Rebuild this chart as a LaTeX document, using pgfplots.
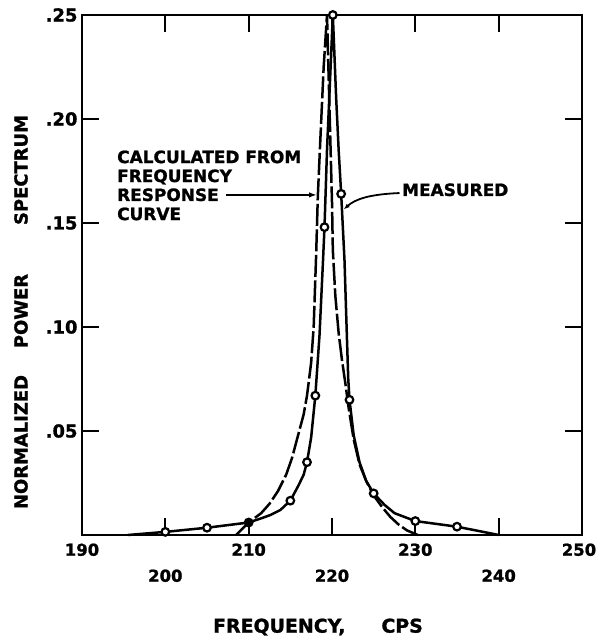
\documentclass[border=0pt]{standalone}
\usepackage{fontspec}
\setmainfont{DejaVu Sans}
\newfontfamily\heavy{DejaVu Sans Bold}[FakeBold=1.2]
\usepackage{pgfplots}
\pgfplotsset{compat=1.18}
\usetikzlibrary{arrows.meta}
\newcommand\tickfont{\fontsize{18}{18}\selectfont\heavy}
\newcommand\xtickfont{\fontsize{16.5}{16.5}\selectfont\heavy}
\newcommand\annfont{\fontsize{17}{17}\selectfont\heavy}
\newcommand\labfont{\fontsize{18}{18}\selectfont\heavy}
\begin{document}
\begin{tikzpicture}
\path[use as bounding box] (0,0) rectangle (598bp,641bp);
\begin{axis}[
  at={(82bp,106bp)}, anchor=south west,
  scale only axis, width=500bp, height=520bp,
  xmin=190, xmax=250, ymin=0, ymax=0.25,
  clip=false,
  axis line style={line width=2.4bp},
  tick style={line width=2.2bp, black},
  tick align=inside,
  major tick length=17bp,
  xtick={190,210,230,250},
  xticklabels={190,210,230,{250\kern6bp}},
  extra x ticks={200,220,240},
  extra x tick labels={200,220,240},
  extra x tick style={xticklabel style={yshift=-26bp}},
  ytick={0.05,0.10,0.15,0.20,0.25},
  yticklabels={.05,.10,.15,.20,.25},
  yticklabel style={font=\tickfont, xshift=-1bp},
  xticklabel style={font=\xtickfont, yshift=-5bp},
]
% calculated from frequency response curve (dashed)
\addplot[line width=2.5bp, black, dash pattern=on 22bp off 3.5bp] coordinates {
(208.5,0) (210,0.006) (211.5,0.0105) (212.5,0.015) (213.5,0.021) (214.5,0.029)
(215.2,0.037) (216,0.049) (216.6,0.058) (217,0.067) (217.5,0.083) (217.8,0.100)
(218.1,0.135) (218.3,0.163) (218.6,0.190) (219.0,0.225) (219.4,0.250)
(219.6,0.220) (219.8,0.190) (220.0,0.160) (220.1,0.137) (220.4,0.115)
(220.8,0.097) (221.2,0.084) (221.6,0.073) (222.0,0.061) (222.6,0.046)
(223.3,0.034) (224.1,0.026) (225,0.019) (226,0.0135) (227,0.0087)
(228,0.005) (229,0.0022) (230.3,0)
};
% measured (solid)
\addplot[line width=2.5bp, black] coordinates {
(195.5,0) (200,0.0015) (205,0.0035) (210,0.006) (211.5,0.008) (212.6,0.0096)
(213.8,0.012) (215,0.0165) (216,0.024) (216.6,0.029) (217,0.035) (217.5,0.047)
(218,0.067) (218.5,0.096) (218.9,0.130) (219.1,0.148) (219.4,0.185)
(219.8,0.222) (220.1,0.250) (220.5,0.210) (220.8,0.185) (221.1,0.164)
(221.5,0.132) (221.75,0.100) (221.95,0.075) (222.1,0.065) (222.6,0.048)
(223.3,0.035) (224.1,0.026) (225,0.020) (226.3,0.0145) (227.5,0.0105)
(230,0.0067) (235,0.004) (240,0)
};
% measured points
\addplot[only marks, mark=*, mark size=3.8bp, mark options={fill=white, draw=black, line width=2.2bp}] coordinates {
(200,0.0015) (205,0.0035) (215,0.0165) (217,0.035) (218,0.067) (219.1,0.148)
(220.1,0.250) (221.1,0.164) (222.1,0.065) (225,0.020) (230,0.0067) (235,0.004)
};
\addplot[only marks, mark=*, mark size=3.8bp, mark options={fill=black, draw=black, line width=2.2bp}] coordinates {
(210,0.006)
};
% annotations
\node[anchor=base west, font=\annfont, inner sep=0] at (axis cs:194.2,0.1788) {CALCULATED FROM};
\node[anchor=base west, font=\annfont, inner sep=0] at (axis cs:194.2,0.1697) {FREQUENCY};
\node[anchor=base west, font=\annfont, inner sep=0] at (axis cs:194.2,0.1606) {RESPONSE};
\node[anchor=base west, font=\annfont, inner sep=0] at (axis cs:194.2,0.1514) {CURVE};
\draw[line width=1.8bp, -{Latex[length=8bp,width=5.5bp]}] (axis cs:207.3,0.1635) -- (axis cs:218.2,0.1635);
\node[anchor=base west, font=\annfont, inner sep=0] at (axis cs:228.4,0.1630) {MEASURED};
\draw[line width=1.8bp, -{Latex[length=6bp,width=4.5bp]}] (axis cs:228.1,0.1644) .. controls (axis cs:224.5,0.1638) and (axis cs:222.8,0.1615) .. (axis cs:221.4,0.1565);
\end{axis}
% axis titles
\node[rotate=90, font=\labfont, inner sep=0] at (21bp,199bp) {NORMALIZED};
\node[rotate=90, font=\labfont, inner sep=0] at (21bp,330bp) {POWER};
\node[rotate=90, font=\labfont, inner sep=0] at (21bp,471bp) {SPECTRUM};
\node[font=\fontsize{19}{19}\selectfont\heavy, inner sep=0] at (318bp,14bp) {FREQUENCY,\hspace{36bp}CPS};
\end{tikzpicture}
\end{document}
